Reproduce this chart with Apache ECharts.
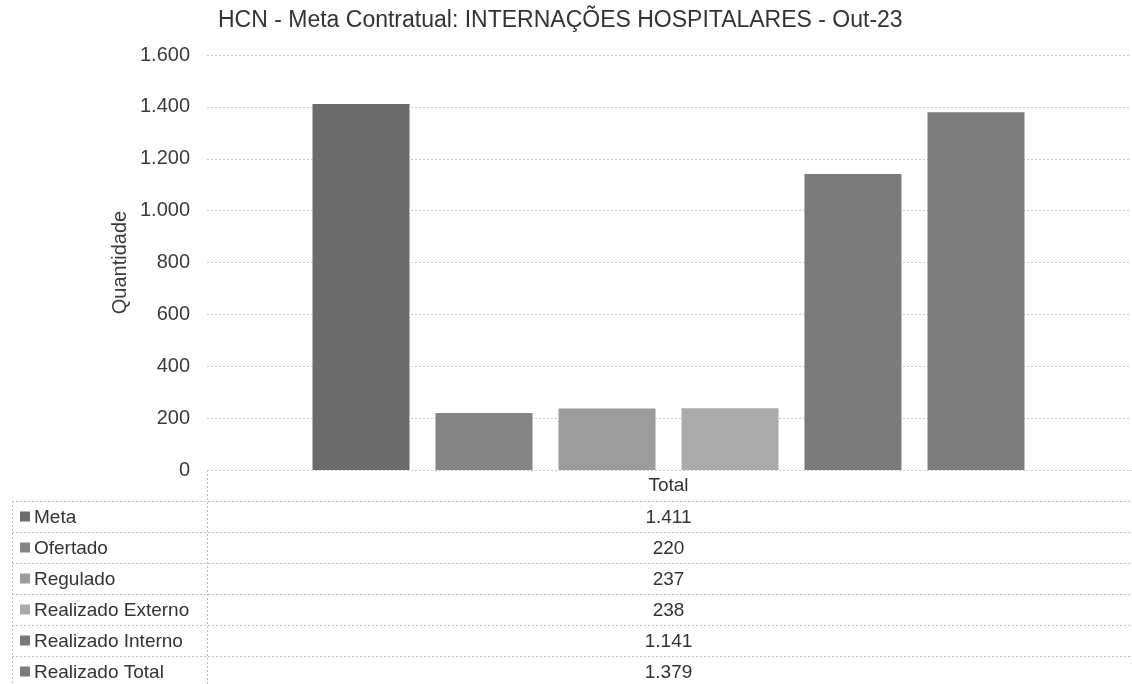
<!DOCTYPE html>
<html><head><meta charset="utf-8">
<script src="https://cdn.jsdelivr.net/npm/echarts@6/dist/echarts.min.js"></script>
<style>html,body{margin:0;padding:0;background:#fff}#c{width:1132px;height:684px}</style>
</head><body><div id="c"></div>
<script>
const titleText = 'HCN - Meta Contratual: INTERNAÇÕES HOSPITALARES - Out-23';
const categories = ['Total'];
const seriesNames = ['Meta', 'Ofertado', 'Regulado', 'Realizado Externo', 'Realizado Interno', 'Realizado Total'];
const seriesValues = [1411, 220, 237, 238, 1141, 1379];
const yAxisName = 'Quantidade';
const seriesColors = ['#6b6b6b', '#858585', '#9c9c9c', '#ababab', '#7a7a7a', '#7c7c7c'];

const fmt = n => String(n).replace(/\B(?=(\d{3})+(?!\d))/g, '.');
const FONT = '"Liberation Sans", Arial, sans-serif';

const chart = echarts.init(document.getElementById('c'), null, {renderer: 'canvas'});

const gridLeft = 207, gridTop = 55, axisY = 470, W = 1132;
const headerH = 31, rowH = 31;

const series = seriesNames.map((name, i) => ({
  name, type: 'bar',
  data: [seriesValues[i]],
  barWidth: 97, barGap: '26.8%',
  itemStyle: {color: seriesColors[i]},
  emphasis: {disabled: true}
}));

// data table graphics
const graphics = [];
const dash = {stroke: '#bdbdbd', lineWidth: 1, lineDash: [2, 2]};
const tableBottom = 684;
graphics.push({type: 'line', shape: {x1: gridLeft, y1: axisY + 0.5, x2: W, y2: axisY + 0.5}, style: dash, silent: true});
graphics.push({type: 'line', shape: {x1: gridLeft + 0.5, y1: axisY, x2: gridLeft + 0.5, y2: tableBottom}, style: dash, silent: true});
graphics.push({type: 'line', shape: {x1: 12.5, y1: axisY + headerH, x2: 12.5, y2: tableBottom}, style: dash, silent: true});
const colCenter = gridLeft + (W - 2 - gridLeft) / 2;
graphics.push({type: 'text', x: colCenter, y: axisY + headerH / 2, style: {text: categories[0], font: '19px ' + FONT, fill: '#333', align: 'center', verticalAlign: 'middle'}, silent: true});
seriesNames.forEach((name, i) => {
  const top = axisY + headerH + i * rowH;
  graphics.push({type: 'line', shape: {x1: 12, y1: top + 0.5, x2: W, y2: top + 0.5}, style: dash, silent: true});
  const mid = top + rowH / 2;
  graphics.push({type: 'rect', shape: {x: 20, y: mid - 5, width: 10, height: 10}, style: {fill: seriesColors[i]}, silent: true});
  graphics.push({type: 'text', x: 34, y: mid + 1, style: {text: name, font: '19px ' + FONT, fill: '#333', align: 'left', verticalAlign: 'middle'}, silent: true});
  graphics.push({type: 'text', x: colCenter, y: mid + 1, style: {text: fmt(seriesValues[i]), font: '19px ' + FONT, fill: '#333', align: 'center', verticalAlign: 'middle'}, silent: true});
});

chart.setOption({
  animation: false,
  backgroundColor: '#fff',
  title: {
    text: titleText, left: 213, top: 4,
    textStyle: {fontFamily: FONT, fontSize: 23, fontWeight: 'normal', color: '#333'}
  },
  grid: {left: gridLeft, right: 2, top: gridTop, bottom: 684 - axisY, containLabel: false},
  xAxis: {
    type: 'category', data: categories,
    axisLine: {show: false}, axisTick: {show: false}, axisLabel: {show: false}
  },
  yAxis: {
    type: 'value', min: 0, max: 1600, interval: 200,
    name: yAxisName, nameLocation: 'middle', nameGap: 77, nameRotate: 90, nameMoveOverlap: false,
    nameTextStyle: {fontFamily: FONT, fontSize: 20, color: '#3a3a3a'},
    axisLine: {show: false}, axisTick: {show: false},
    axisLabel: {formatter: v => fmt(v), fontFamily: FONT, fontSize: 20, color: '#3a3a3a', margin: 17},
    splitLine: {lineStyle: {color: '#c8c8c8', type: [2, 2], width: 1}}
  },
  series,
  graphic: graphics
});
</script></body></html>
